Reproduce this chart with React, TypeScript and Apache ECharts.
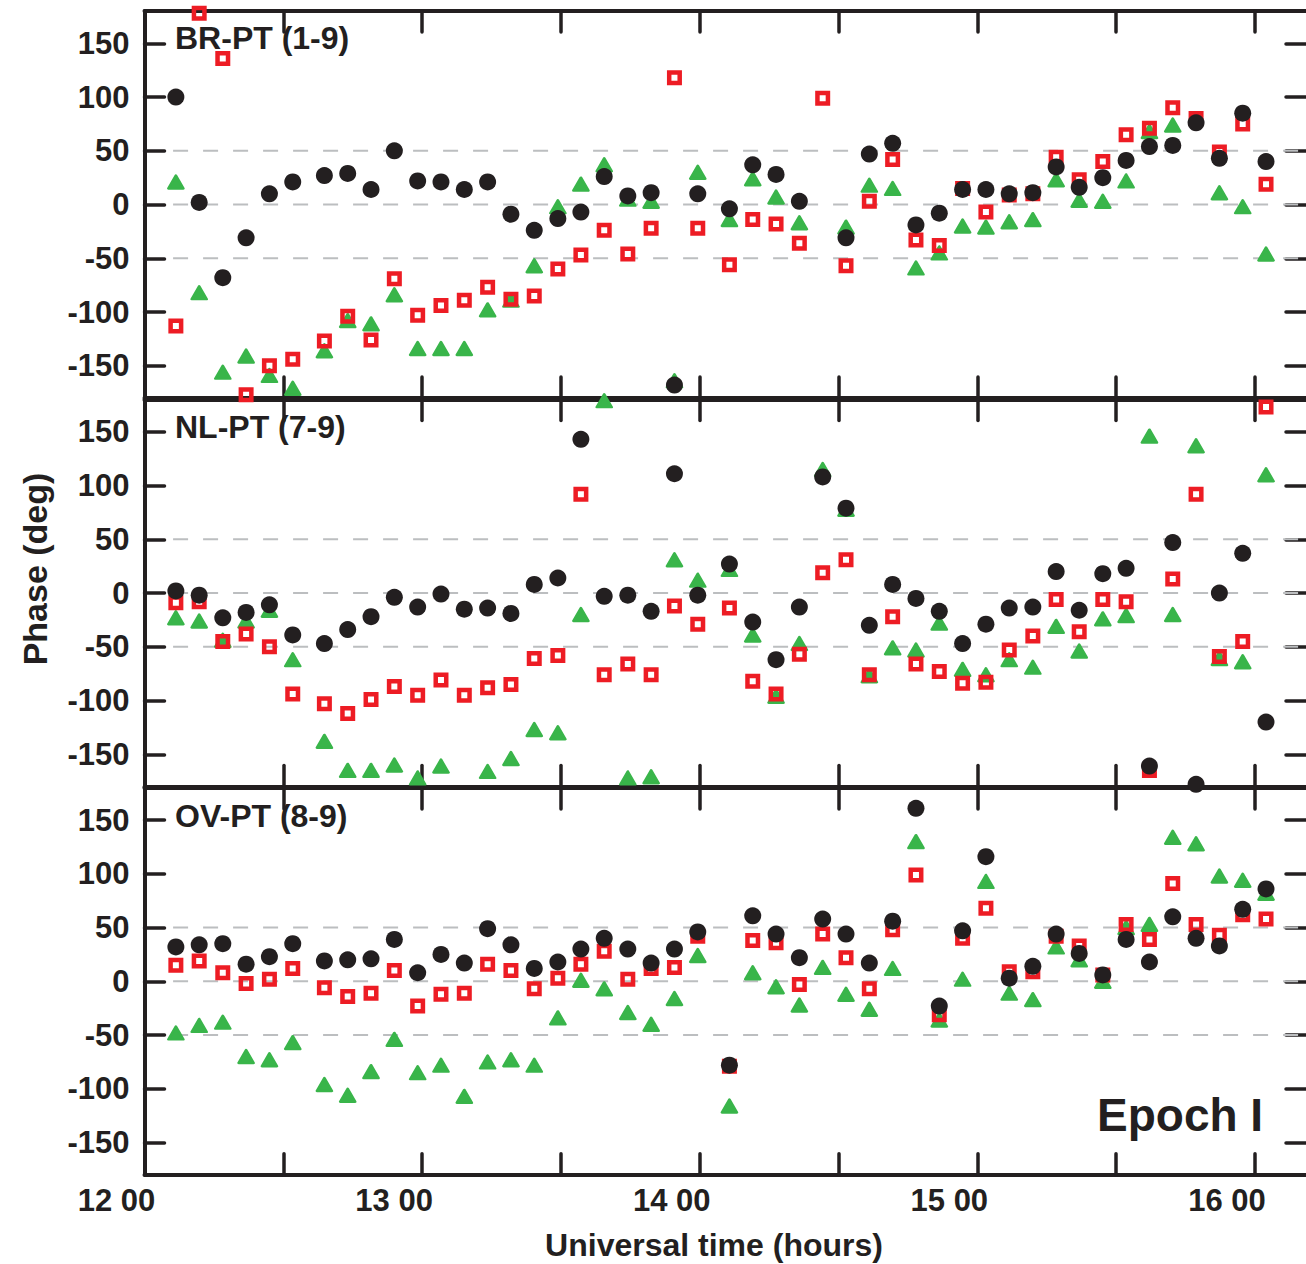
import React, { useEffect, useRef } from "react";
import * as echarts from "echarts";

// Universal time (hours) of each sample
const times = [
  12.113, 12.197, 12.282, 12.366, 12.45, 12.534, 12.648, 12.732, 12.816, 12.9,
  12.984, 13.068, 13.152, 13.236, 13.32, 13.404, 13.489, 13.572, 13.656, 13.741,
  13.825, 13.909, 13.993, 14.107, 14.191, 14.275, 14.359, 14.443, 14.527, 14.611,
  14.695, 14.779, 14.863, 14.947, 15.031, 15.115, 15.2, 15.284, 15.367, 15.452,
  15.536, 15.62, 15.704, 15.788, 15.872, 15.956, 16.04,
];

// BR-PT (1-9)
const brBlack = [100, 2, -68, -31, 10, 21, 27, 29, 14, 50, 22, 21, 14, 21, -9, -24, -13, -7, 26, 8, 11, -168, 10, -4, 37, 28, 3, null, -31, 47, 57, -19, -8, 14, 14, 10, 11, 35, 16, 25, 41, 54, 55, 76, 43, 85, 40];
const brRed = [-113, 178, 136, -177, -150, -144, -127, -104, -126, -69, -103, -94, -89, -77, -88, -85, -60, -47, -24, -46, -22, 118, -22, -56, -14, -18, -36, 99, -57, 3, 42, -33, -38, 15, -7, 9, 10, 44, 23, 40, 65, 71, 90, 80, 49, 75, 19];
const brGreen = [21, -82, -156, -141, -159, -171, -136, -108, -111, -84, -134, -134, -134, -98, -89, -57, -2, 19, 37, 5, 3, -164, 30, -14, 24, 7, -17, null, -21, 18, 15, -59, -45, -20, -21, -16, -14, 23, 4, 3, 22, 68, 74, null, 11, -2, -46];

// NL-PT (7-9)
const nlBlack = [2, -2, -23, -18, -11, -39, -47, -34, -22, -4, -13, -1, -15, -14, -19, 8, 14, 143, -3, -2, -17, 111, -2, 27, -27, -62, -13, 108, 79, -30, 8, -5, -17, -47, -29, -14, -13, 20, -16, 18, 23, -161, 47, -178, 0, 37, -120];
const nlRed = [-9, -8, -45, -38, -50, -94, -103, -112, -99, -87, -95, -81, -95, -88, -85, -61, -58, 92, -76, -66, -76, -12, -29, -14, -82, -94, -57, 19, 31, -76, -22, -66, -73, -84, -83, -53, -40, -6, -36, -6, -8, -165, 13, 92, -59, -45, 173];
const nlGreen = [-23, -26, -44, -26, -16, -62, -138, -165, -165, -160, -172, -161, null, -166, -154, -127, -130, -20, 179, -172, -171, 31, 12, 22, -39, -96, -47, 115, 78, -77, -51, -53, -28, -71, -76, -62, -69, -31, -54, -24, -21, 146, -20, 137, -61, -64, 110];

// OV-PT (8-9)
const ovBlack = [32, 34, 35, 16, 23, 35, 19, 20, 21, 39, 8, 25, 17, 49, 34, 12, 18, 30, 40, 30, 17, 30, 46, -78, 61, 44, 22, 58, 44, 17, 56, 161, -23, 47, 116, 3, 14, 44, 26, 6, 39, 18, 60, 40, 33, 67, 86];
const ovRed = [15, 19, 8, -2, 2, 12, -6, -14, -11, 10, -23, -12, -11, 16, 10, -7, 3, 16, 28, 2, 12, 13, 42, -79, 38, 36, -3, 44, 22, -7, 48, 99, -31, 40, 68, 9, 9, 42, 33, 6, 53, 39, 91, 53, 43, 62, 58];
const ovGreen = [-48, -41, -38, -70, -73, -57, -96, -106, -84, -54, -85, -78, -107, -75, -73, -78, -34, 1, -7, -29, -40, -16, 24, -116, 8, -5, -22, 13, -12, -26, 12, 130, -36, 2, 93, -11, -17, 32, 20, 0, 50, 53, 134, 128, 98, 94, 82];

const panelLabels = ["BR-PT (1-9)", "NL-PT (7-9)", "OV-PT (8-9)"];
const yTicks = [-150, -100, -50, 0, 50, 100, 150];
const xTicks = [12, 12.5, 13, 13.5, 14, 14.5, 15, 15.5, 16];
const xLabels = [12, 13, 14, 15, 16];
const dashedLevels = [50, 0, -50];
const X_MIN = 12;
const X_MAX = 16.184;
const DASH_START = 12.103;

const panels = [
  { black: brBlack, red: brRed, green: brGreen },
  { black: nlBlack, red: nlRed, green: nlGreen },
  { black: ovBlack, red: ovRed, green: ovGreen },
];

const INK = "#231f20";
const RED = "#ed1c24";
const GREEN = "#39b54a";
const FONT = '"Liberation Sans", Arial, Helvetica, sans-serif';

const GRID_LEFT = 144.5;
const GRID_TOPS = [11.1, 399.6, 787.9];
const GRID_H = 386.9;

function pairs(vals: (number | null)[]) {
  const out: number[][] = [];
  vals.forEach((v, i) => {
    if (v !== null && v !== undefined) out.push([times[i], v]);
  });
  return out;
}

function buildOption() {
  const grid: any[] = [];
  const xAxis: any[] = [];
  const yAxis: any[] = [];
  const series: any[] = [];

  const tickStyle = { color: INK, width: 3.5, cap: "round" };

  panels.forEach((p, i) => {
    grid.push({
      left: GRID_LEFT,
      top: GRID_TOPS[i],
      width: 1306 - GRID_LEFT,
      height: GRID_H,
      outerBoundsMode: "none",
      containLabel: false,
    });
    const isBottom = i === panels.length - 1;
    xAxis.push({
      type: "value",
      gridIndex: i,
      position: "bottom",
      min: X_MIN,
      max: X_MAX,
      axisLine: { show: true, onZero: false, lineStyle: { color: INK, width: 4 } },
      axisTick: { show: true, inside: true, length: 21, customValues: xTicks, lineStyle: tickStyle },
      axisLabel: {
        show: isBottom,
        customValues: xLabels,
        formatter: (v: number) => `${v} 00`,
        color: INK,
        fontFamily: FONT,
        fontWeight: "bold",
        fontSize: 31,
        margin: 10,
        padding: [0, 56, 0, 0],
      },
      splitLine: { show: false },
    });
    xAxis.push({
      type: "value",
      gridIndex: i,
      position: "top",
      min: X_MIN,
      max: X_MAX,
      axisLine: { show: true, onZero: false, lineStyle: { color: INK, width: 4 } },
      axisTick: { show: true, inside: true, length: 21, customValues: xTicks, lineStyle: tickStyle },
      axisLabel: { show: false },
      splitLine: { show: false },
    });
    yAxis.push({
      type: "value",
      gridIndex: i,
      position: "left",
      min: -180,
      max: 180,
      axisLine: { show: true, onZero: false, lineStyle: { color: INK, width: 4 } },
      axisTick: { show: true, inside: true, length: 20, customValues: yTicks, lineStyle: tickStyle },
      axisLabel: {
        show: true,
        customValues: yTicks,
        formatter: (v: number) => String(v),
        color: INK,
        fontFamily: FONT,
        fontWeight: "bold",
        fontSize: 31,
        margin: 15,
      },
      splitLine: { show: false },
    });
    yAxis.push({
      type: "value",
      gridIndex: i,
      position: "right",
      min: -180,
      max: 180,
      axisLine: { show: false, onZero: false },
      axisTick: { show: true, inside: true, length: 20, customValues: yTicks, lineStyle: tickStyle },
      axisLabel: { show: false },
      splitLine: { show: false },
    });

    const xi = i * 2;
    const yi = i * 2;
    dashedLevels.forEach((lvl) => {
      series.push({
        type: "line",
        xAxisIndex: xi,
        yAxisIndex: yi,
        data: [
          [DASH_START, lvl],
          [X_MAX, lvl],
        ],
        symbol: "none",
        silent: true,
        z: 1,
        lineStyle: { color: "#bcbec0", width: 2, type: [15, 15] },
      });
    });
    series.push({
      type: "scatter",
      xAxisIndex: xi,
      yAxisIndex: yi,
      data: pairs(p.green),
      symbol: "triangle",
      symbolSize: [15, 13],
      z: 3,
      clip: false,
      itemStyle: { color: GREEN, borderColor: GREEN, borderWidth: 2.5, borderJoin: "round", opacity: 1 },
    });
    series.push({
      type: "scatter",
      xAxisIndex: xi,
      yAxisIndex: yi,
      data: pairs(p.red),
      symbol: "rect",
      symbolSize: 10.5,
      z: 4,
      clip: false,
      itemStyle: { color: "rgba(0,0,0,0)", borderColor: RED, borderWidth: 4.5, opacity: 1 },
    });
    series.push({
      type: "scatter",
      xAxisIndex: xi,
      yAxisIndex: yi,
      data: pairs(p.black),
      symbol: "circle",
      symbolSize: 17,
      z: 5,
      clip: false,
      itemStyle: { color: INK, opacity: 1 },
    });
  });

  const labelYs = [38, 426.7, 816];
  const graphic: any[] = panelLabels.map((t, i) => ({
    type: "text",
    x: 175,
    y: labelYs[i],
    z: 10,
    style: {
      text: t,
      fill: INK,
      fontFamily: FONT,
      fontWeight: "bold",
      fontSize: 32,
      align: "left",
      verticalAlign: "middle",
    },
  }));
  graphic.push({
    type: "text",
    x: 1097,
    y: 1115,
    z: 10,
    style: {
      text: "Epoch I",
      fill: INK,
      fontFamily: FONT,
      fontWeight: "bold",
      fontSize: 46,
      align: "left",
      verticalAlign: "middle",
    },
  });
  graphic.push({
    type: "text",
    x: 714,
    y: 1245,
    z: 10,
    style: {
      text: "Universal time (hours)",
      fill: INK,
      fontFamily: FONT,
      fontWeight: "bold",
      fontSize: 32,
      align: "center",
      verticalAlign: "middle",
    },
  });
  graphic.push({
    type: "text",
    x: 35,
    y: 569,
    rotation: Math.PI / 2,
    z: 10,
    style: {
      text: "Phase (deg)",
      fill: INK,
      fontFamily: FONT,
      fontWeight: "bold",
      fontSize: 34,
      align: "center",
      verticalAlign: "middle",
    },
  });

  return {
    animation: false,
    backgroundColor: "#ffffff",
    grid,
    xAxis,
    yAxis,
    series,
    graphic,
  };
}

export default function App() {
  const ref = useRef<HTMLDivElement>(null);
  useEffect(() => {
    document.body.style.margin = "0";
    document.body.style.overflow = "hidden";
    const chart = echarts.init(ref.current as HTMLDivElement, null, { renderer: "svg" });
    chart.setOption(buildOption());
    return () => chart.dispose();
  }, []);
  return (
    <div
      ref={ref}
      style={{ position: "absolute", left: 0, top: 0, width: 1306, height: 1264, background: "#fff" }}
    />
  );
}
